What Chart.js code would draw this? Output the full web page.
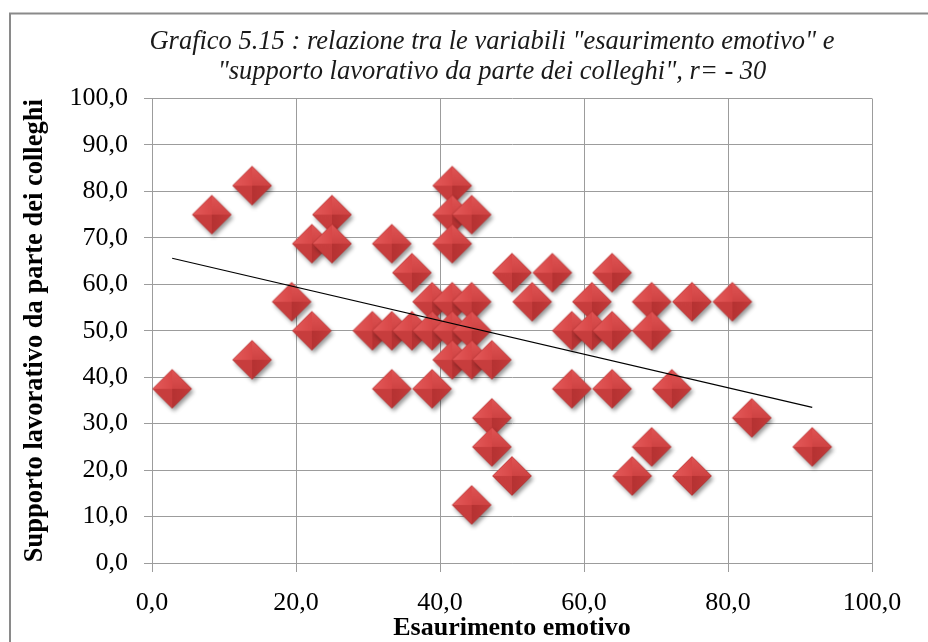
<!DOCTYPE html>
<html>
<head>
<meta charset="utf-8">
<script src="https://cdn.jsdelivr.net/npm/chart.js@4/dist/chart.umd.min.js"></script>
<style>
  html, body { margin: 0; padding: 0; background: #fff; }
  #wrap { width: 928px; height: 642px; }
</style>
</head>
<body>
<div id="wrap"><canvas id="c" width="928" height="642"></canvas></div>
<script>
// Esaurimento emotivo (x) vs supporto lavorativo da parte dei colleghi (y)
const esaurimento = [
  2.8, 8.3, 13.9, 13.9, 19.4, 22.2, 22.2, 25.0, 25.0, 30.6,
  33.3, 33.3, 33.3, 36.1, 36.1, 38.9, 38.9, 38.9, 41.7, 41.7,
  41.7, 41.7, 41.7, 41.7, 44.4, 44.4, 44.4, 44.4, 44.4, 47.2,
  47.2, 47.2, 50.0, 50.0, 52.8, 55.6, 58.3, 58.3, 61.1, 61.1,
  63.9, 63.9, 63.9, 66.7, 69.4, 69.4, 69.4, 72.2, 75.0, 75.0,
  80.6, 83.3, 91.7
];
const supporto = [
  37.5, 75.0, 81.25, 43.75, 56.25, 68.75, 50.0, 75.0, 68.75, 50.0,
  68.75, 50.0, 37.5, 62.5, 50.0, 56.25, 50.0, 37.5, 81.25, 75.0,
  68.75, 56.25, 50.0, 43.75, 75.0, 56.25, 50.0, 43.75, 12.5, 43.75,
  31.25, 25.0, 62.5, 18.75, 56.25, 62.5, 50.0, 37.5, 56.25, 50.0,
  62.5, 50.0, 37.5, 18.75, 56.25, 50.0, 25.0, 37.5, 56.25, 18.75,
  56.25, 31.25, 25.0
];
// linear trend line end points
const trendX = [2.8, 91.7];
const trendY = [65.6, 33.5];

const xTickLabels = ['0,0', '20,0', '40,0', '60,0', '80,0', '100,0'];
const yTickLabels = ['0,0', '10,0', '20,0', '30,0', '40,0', '50,0', '60,0', '70,0', '80,0', '90,0', '100,0'];

const titleLines = [
  'Grafico 5.15 : relazione tra le variabili "esaurimento emotivo" e',
  '"supporto lavorativo da parte dei colleghi", r= - 30'
];
const xTitle = 'Esaurimento emotivo';
const yTitle = 'Supporto lavorativo da parte dei colleghi';

const serif = "'Liberation Serif', 'Times New Roman', serif";
const gridColor = '#9c9c9c';

// bevelled red diamond used as the marker
function makeDiamond() {
  const size = 52, c = 26, r = 19.5;
  const cv = document.createElement('canvas');
  cv.width = size; cv.height = size;
  const g = cv.getContext('2d');
  const T = [c, c - r], R = [c + r, c], B = [c, c + r], L = [c - r, c];
  g.save();
  g.shadowColor = 'rgba(0,0,0,0.42)';
  g.shadowBlur = 4;
  g.shadowOffsetX = 2;
  g.shadowOffsetY = 3;
  g.beginPath();
  g.moveTo(...T); g.lineTo(...R); g.lineTo(...B); g.lineTo(...L); g.closePath();
  g.fillStyle = '#c43a3a';
  g.fill();
  g.restore();
  const facet = (p1, p2, c1, c2) => {
    const grad = g.createLinearGradient(p1[0], p1[1], c, c);
    grad.addColorStop(0, c1);
    grad.addColorStop(1, c2);
    g.beginPath();
    g.moveTo(c, c); g.lineTo(...p1); g.lineTo(...p2); g.closePath();
    g.fillStyle = grad;
    g.fill();
  };
  facet(L, T, '#e45a5a', '#d84848');
  facet(T, R, '#e05454', '#cf4343');
  facet(R, B, '#c43a3a', '#b53232');
  facet(B, L, '#c63c3c', '#c83e3e');
  g.beginPath();
  g.moveTo(...T); g.lineTo(...R); g.lineTo(...B); g.lineTo(...L); g.closePath();
  g.strokeStyle = 'rgba(150,35,35,0.45)';
  g.lineWidth = 0.7;
  g.stroke();
  return cv;
}
const diamond = makeDiamond();

// white page, grey frame and the two-line italic heading
const framePlugin = {
  id: 'frame',
  beforeDraw(chart) {
    const ctx = chart.ctx;
    ctx.save();
    ctx.fillStyle = '#ffffff';
    ctx.fillRect(0, 0, chart.width, chart.height);
    ctx.strokeStyle = '#8a8a8a';
    ctx.lineWidth = 2;
    ctx.strokeRect(10, 13.5, 960, 700);
    ctx.fillStyle = '#1a1a1a';
    ctx.font = 'italic 26.5px ' + serif;
    ctx.textAlign = 'center';
    ctx.textBaseline = 'middle';
    titleLines.forEach((line, i) => ctx.fillText(line, 492, 42 + i * 30));
    ctx.restore();
  }
};

new Chart(document.getElementById('c'), {
  type: 'scatter',
  data: {
    datasets: [
      {
        type: 'line',
        label: 'trend',
        data: trendX.map((x, i) => ({ x: x, y: trendY[i] })),
        borderColor: '#000000',
        borderWidth: 1.2,
        pointRadius: 0,
        fill: false,
        order: 0
      },
      {
        label: 'soggetti',
        data: esaurimento.map((x, i) => ({ x: x, y: supporto[i] })),
        pointStyle: diamond,
        pointRadius: 20,
        pointHoverRadius: 20,
        order: 1
      }
    ]
  },
  options: {
    responsive: false,
    animation: false,
    layout: { padding: { left: 0, right: 56, top: 98.5, bottom: 0 } },
    plugins: {
      legend: { display: false },
      tooltip: { enabled: false },
      title: { display: false }
    },
    scales: {
      x: {
        type: 'linear',
        min: 0, max: 100,
        afterFit(s) { s.height = 79; },
        ticks: {
          stepSize: 20,
          padding: 16,
          color: '#000',
          font: { family: serif, size: 26 },
          callback: (v) => xTickLabels[Math.round(v / 20)]
        },
        grid: { color: gridColor, lineWidth: 1, tickLength: 9, tickColor: gridColor },
        border: { color: gridColor, width: 1 },
        title: {
          display: true,
          text: xTitle,
          color: '#000',
          font: { family: serif, size: 26, weight: 'bold', lineHeight: 1 },
          padding: { top: 0, bottom: 1 }
        }
      },
      y: {
        type: 'linear',
        min: 0, max: 100,
        afterFit(s) { s.width = 152; },
        ticks: {
          stepSize: 10,
          padding: 16,
          color: '#000',
          font: { family: serif, size: 26 },
          callback: (v) => yTickLabels[Math.round(v / 10)]
        },
        grid: { color: gridColor, lineWidth: 1, tickLength: 8, tickColor: gridColor },
        border: { color: gridColor, width: 1 },
        title: {
          display: true,
          text: yTitle,
          color: '#000',
          font: { family: serif, size: 26.5, weight: 'bold', lineHeight: 1 },
          padding: { top: 22, bottom: 0 }
        }
      }
    }
  },
  plugins: [framePlugin]
});
</script>
</body>
</html>
